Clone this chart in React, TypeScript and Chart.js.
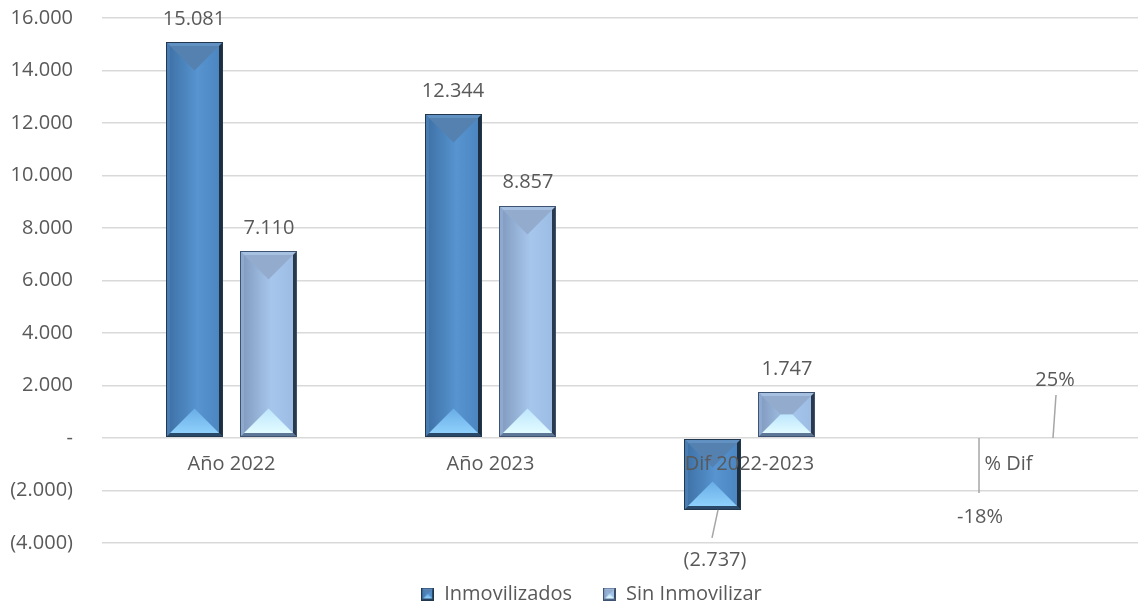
import React, { useEffect, useRef } from 'react';
import { Chart, registerables } from 'chart.js';

Chart.register(...registerables);

// ---------- data ----------
const categories = ['Año 2022', 'Año 2023', 'Dif 2022-2023', '% Dif'];
const seriesNames = ['Inmovilizados', 'Sin Inmovilizar'];
const inmovilizados = [15081, 12344, -2737, -0.18];
const sinInmovilizar = [7110, 8857, 1747, 0.25];
const yMin = -4000;
const yMax = 16000;
const yStep = 2000;
const PERCENT_INDEX = 3;

// ---------- styles ----------
const FONT = "'Open Sans', sans-serif";
const TEXT = '#595959';

type Pal = {
  faceL: string; faceM: string; faceR: string;
  rimL: string; rimT: string; rimR: string; rimB: string;
  top: string; botA: string; botB: string; outline: string;
};
const palDark: Pal = {
  faceL: '#3c6fa3', faceM: '#5794d0', faceR: '#4a84bf',
  rimL: '#4a7db3', rimT: '#6190c2', rimR: '#1d2e3f', rimB: '#2a4868',
  top: '#5581b0', botA: '#68ade6', botB: '#8fd0fb', outline: '#22384f',
};
const palLight: Pal = {
  faceL: '#7f98bc', faceM: '#a7c6ec', faceR: '#9bbbe4',
  rimL: '#8ea9cf', rimT: '#a6c0e2', rimR: '#2a394b', rimB: '#5f7797',
  top: '#93accd', botA: '#bde6fd', botB: '#e2fbff', outline: '#3e5271',
};
const palettes = [palDark, palLight];

// manual label placements (offsets from bar end) with leader lines
const labelOverrides: Record<string, { dx: number; dy: number; leader?: [number, number, number] }> = {
  '0-2': { dx: 3, dy: 48, leader: [3, -3, -20] },
  '0-3': { dx: 9, dy: 77, leader: [-1, -1, -22] },
  '1-3': { dx: 9, dy: -60, leader: [-2, 1, 17] },
};

const thousands = (n: number) =>
  Math.round(Math.abs(n)).toString().replace(/\B(?=(\d{3})+(?!\d))/g, '.');
const fmtAxis = (v: number) => (v === 0 ? '-' : v < 0 ? `(${thousands(v)})` : thousands(v));
const fmtLabel = (v: number, idx: number) =>
  idx === PERCENT_INDEX ? `${Math.round(v * 100)}%` : v < 0 ? `(${thousands(v)})` : thousands(v);

function poly(ctx: CanvasRenderingContext2D, pts: number[][], fill: string | CanvasGradient) {
  ctx.beginPath();
  ctx.moveTo(pts[0][0], pts[0][1]);
  for (let i = 1; i < pts.length; i++) ctx.lineTo(pts[i][0], pts[i][1]);
  ctx.closePath();
  ctx.fillStyle = fill;
  ctx.fill();
}

function drawBevel(ctx: CanvasRenderingContext2D, l: number, t: number, r: number, b: number, pal: Pal, e: number) {
  const w = r - l;
  const h = b - t;
  if (w < 1 || h < 1) return;
  ctx.save();
  const g = ctx.createLinearGradient(l, 0, r, 0);
  g.addColorStop(0, pal.faceL);
  g.addColorStop(0.55, pal.faceM);
  g.addColorStop(1, pal.faceR);
  ctx.fillStyle = g;
  ctx.fillRect(l, t, w, h);
  const e2 = Math.min(e, w / 2, h / 2);
  poly(ctx, [[l, t], [r, t], [r - e2, t + e2], [l + e2, t + e2]], pal.rimT);
  poly(ctx, [[l, b], [r, b], [r - e2, b - e2], [l + e2, b - e2]], pal.rimB);
  poly(ctx, [[l, t], [l + e2, t + e2], [l + e2, b - e2], [l, b]], pal.rimL);
  poly(ctx, [[r, t], [r - e2, t + e2], [r - e2, b - e2], [r, b]], pal.rimR);
  const il = l + e2, ir = r - e2, it = t + e2, ib = b - e2;
  const d = Math.max(0, Math.min((ir - il) / 2, (ib - it) / 2));
  if (d > 0) {
    poly(ctx, [[il, it], [ir, it], [ir - d, it + d], [il + d, it + d]], pal.top);
    const bg = ctx.createLinearGradient(0, ib - d, 0, ib);
    bg.addColorStop(0, pal.botA);
    bg.addColorStop(1, pal.botB);
    poly(ctx, [[il, ib], [ir, ib], [ir - d, ib - d], [il + d, ib - d]], bg);
  }
  ctx.strokeStyle = pal.outline;
  ctx.lineWidth = 1;
  ctx.strokeRect(l + 0.5, t + 0.5, w - 1, h - 1);
  ctx.restore();
}

function makeIcon(pal: Pal): HTMLCanvasElement {
  const c = document.createElement('canvas');
  c.width = 13;
  c.height = 13;
  const ctx = c.getContext('2d')!;
  drawBevel(ctx, 0, 0, 13, 13, pal, 2);
  return c;
}

const bevelPlugin = {
  id: 'bevelBars',
  afterLayout(chart: any) {
    // centre the legend the way the original does (slightly right of canvas centre)
    if (chart.legend) chart.legend.left = 45;
  },
  afterDatasetsDraw(chart: any) {
    const ctx: CanvasRenderingContext2D = chart.ctx;
    chart.data.datasets.forEach((ds: any, di: number) => {
      const meta = chart.getDatasetMeta(di);
      if (meta.hidden) return;
      meta.data.forEach((el: any) => {
        const { x, y, base, width } = el.getProps(['x', 'y', 'base', 'width'], true);
        if (Math.abs(y - base) < 2) return;
        const top = Math.round(Math.min(y, base));
        const bottom = Math.round(Math.max(y, base));
        drawBevel(ctx, Math.round(x - width / 2), top, Math.round(x + width / 2), bottom, palettes[di], 4);
      });
    });
    // data labels
    ctx.save();
    ctx.font = `20px ${FONT}`;
    ctx.fillStyle = TEXT;
    ctx.textAlign = 'center';
    ctx.textBaseline = 'middle';
    chart.data.datasets.forEach((ds: any, di: number) => {
      const meta = chart.getDatasetMeta(di);
      if (meta.hidden) return;
      meta.data.forEach((el: any, j: number) => {
        const v = ds.data[j] as number;
        const { x, y } = el.getProps(['x', 'y'], true);
        const ov = labelOverrides[`${di}-${j}`];
        const lx = x + (ov ? ov.dx : 0);
        const ly = y + (ov ? ov.dy : v < 0 ? 25 : -25);
        if (ov && ov.leader) {
          const [sx, ex, ey] = ov.leader;
          ctx.save();
          ctx.strokeStyle = '#a6a6a6';
          ctx.lineWidth = 1.5;
          ctx.beginPath();
          ctx.moveTo(lx + sx, y);
          ctx.lineTo(lx + ex, ly + ey);
          ctx.stroke();
          ctx.restore();
        }
        ctx.fillText(fmtLabel(v, j), lx, ly + 2);
      });
    });
    ctx.restore();
  },
};

export default function App() {
  const ref = useRef<HTMLCanvasElement | null>(null);

  useEffect(() => {
    const canvas = ref.current;
    if (!canvas) return;
    const icons = [makeIcon(palDark), makeIcon(palLight)];
    const chart = new Chart(canvas, {
      type: 'bar',
      data: {
        labels: categories,
        datasets: [
          {
            label: seriesNames[0],
            data: inmovilizados,
            backgroundColor: 'rgba(0,0,0,0)',
            borderWidth: 0,
            categoryPercentage: 0.579,
            barPercentage: 0.76,
          },
          {
            label: seriesNames[1],
            data: sinInmovilizar,
            backgroundColor: 'rgba(0,0,0,0)',
            borderWidth: 0,
            categoryPercentage: 0.579,
            barPercentage: 0.76,
          },
        ],
      },
      options: {
        responsive: false,
        animation: false,
        devicePixelRatio: 1,
        layout: { padding: { top: 18, left: 0, right: 0, bottom: -7 } },
        scales: {
          x: {
            position: { y: 0 } as any,
            grid: { display: false, drawTicks: false },
            border: { display: false },
            ticks: { z: 1, padding: 14, color: TEXT, font: { size: 20, family: FONT } },
          },
          y: {
            min: yMin,
            max: yMax,
            grid: {
              color: '#d9d9d9',
              lineWidth: 1.5,
              drawTicks: true,
              tickLength: 29,
              tickColor: 'rgba(0,0,0,0)',
            },
            border: { display: false },
            ticks: {
              stepSize: yStep,
              padding: 0,
              color: TEXT,
              font: { size: 20, family: FONT },
              callback: (v: any) => fmtAxis(Number(v)),
            },
            afterFit: (s: any) => {
              s.width = 102;
            },
          },
        },
        plugins: {
          tooltip: { enabled: false },
          legend: {
            position: 'bottom',
            title: { display: true, text: '', font: { size: 5 }, padding: { top: 4, bottom: 0 } },
            labels: {
              usePointStyle: true,
              boxWidth: 13,
              boxHeight: 13,
              padding: 31,
              color: TEXT,
              font: { size: 20, family: FONT },
              generateLabels: (c: any) =>
                c.data.datasets.map((ds: any, i: number) => ({
                  text: ds.label,
                  pointStyle: icons[i],
                  fillStyle: palettes[i].faceM,
                  strokeStyle: palettes[i].outline,
                  lineWidth: 0,
                  hidden: !c.isDatasetVisible(i),
                  datasetIndex: i,
                  fontColor: TEXT,
                })),
            },
          },
        },
      },
      plugins: [bevelPlugin],
    });
    return () => chart.destroy();
  }, []);

  return (
    <div style={{ position: 'absolute', left: 0, top: 0, width: 1138, height: 607 }}>
      <canvas ref={ref} width={1138} height={607} style={{ display: 'block' }} />
    </div>
  );
}
